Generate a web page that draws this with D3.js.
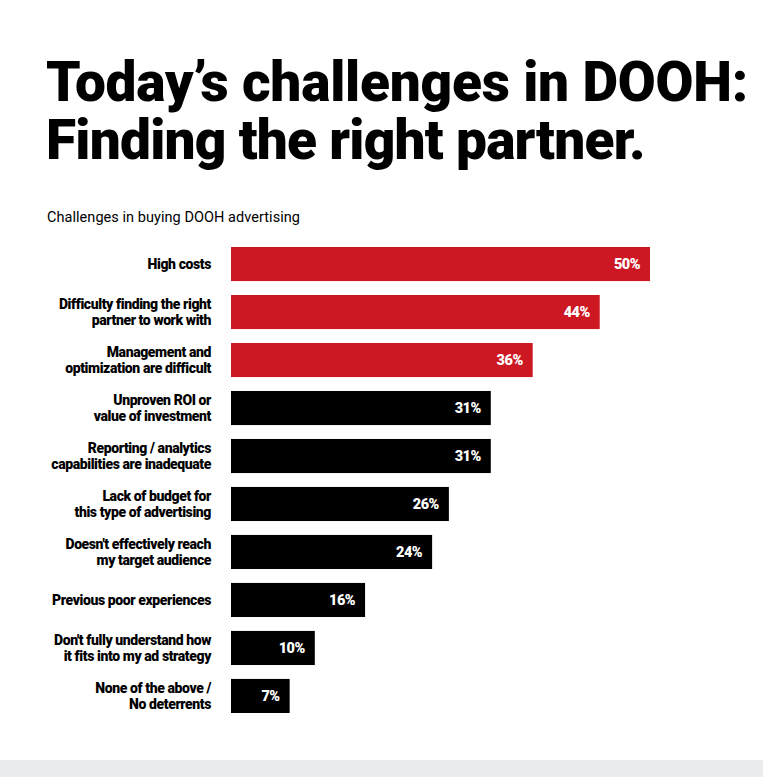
<!DOCTYPE html>
<html>
<head>
<meta charset="utf-8">
<script src="https://cdn.jsdelivr.net/npm/d3@7"></script>
<style>
  html, body { margin: 0; padding: 0; background: #fff; }
  svg { display: block; }
</style>
</head>
<body>
<div id="root"></div>
<script>
const categories = [
  'High costs',
  'Difficulty finding the right\npartner to work with',
  'Management and\noptimization are difficult',
  'Unproven ROI or\nvalue of investment',
  'Reporting / analytics\ncapabilities are inadequate',
  'Lack of budget for\nthis type of advertising',
  "Doesn't effectively reach\nmy target audience",
  'Previous poor experiences',
  "Don't fully understand how\nit fits into my ad strategy",
  'None of the above /\nNo deterrents'
];
const values = [50, 44, 36, 31, 31, 26, 24, 16, 10, 7];
const highlighted = [true, true, true, false, false, false, false, false, false, false];
const titleLines = ["Today\u2019s challenges in DOOH:", 'Finding the right partner.'];
const titleWidths = [702, 599];
const subtitle = 'Challenges in buying DOOH advertising';

const W = 763, H = 777;
const margin = { top: 247, left: 231, bottom: 64 };
const plotW = 419;  // 0..50 spans this
const plotH = H - margin.top - margin.bottom;

const svg = d3.select('#root').append('svg')
  .attr('width', W)
  .attr('height', H);

svg.append('rect')
  .attr('x', 0).attr('y', 760)
  .attr('width', W).attr('height', H - 760)
  .attr('fill', '#ebeced');

const title = svg.append('g')
  .attr('font-family', 'Roboto, "Liberation Sans", sans-serif')
  .attr('font-weight', 900)
  .attr('font-size', 55)
  .attr('fill', '#000');

// squeeze each title line with letter spacing until it fits the wanted width
title.selectAll('text')
  .data(titleLines)
  .enter().append('text')
    .attr('x', 46)
    .attr('y', (d, i) => 101 + i * 58)
    .text(d => d)
    .each(function(d, i) {
      const natural = this.getComputedTextLength();
      const ls = (titleWidths[i] - natural) / d.length;
      d3.select(this).attr('letter-spacing', ls);
    });

svg.append('text')
  .attr('x', 47).attr('y', 222)
  .attr('font-family', 'Roboto, "Liberation Sans", sans-serif')
  .attr('font-size', 14.5)
  .attr('letter-spacing', 0.05)
  .text(subtitle);

const g = svg.append('g')
  .attr('transform', `translate(${margin.left}, ${margin.top})`);

const xScale = d3.scaleLinear()
  .domain([0, 50])
  .range([0, plotW]);

const yScale = d3.scaleBand()
  .domain(categories)
  .range([0, plotH])
  .paddingInner(0.29)
  .paddingOuter(0);

g.selectAll('rect.bar')
  .data(categories)
  .enter().append('rect')
    .attr('class', 'bar')
    .attr('x', 0)
    .attr('y', d => yScale(d))
    .attr('width', (d, i) => xScale(values[i]))
    .attr('height', yScale.bandwidth())
    .attr('fill', (d, i) => highlighted[i] ? '#cd1824' : '#000');

g.selectAll('text.val')
  .data(categories)
  .enter().append('text')
    .attr('class', 'val')
    .attr('x', (d, i) => xScale(values[i]) - 10)
    .attr('y', d => yScale(d) + yScale.bandwidth() / 2)
    .attr('dy', '0.36em')
    .attr('text-anchor', 'end')
    .attr('fill', '#fff')
    .attr('font-family', 'Roboto, "Liberation Sans", sans-serif')
    .attr('font-weight', 900)
    .attr('font-size', 14.5)
    .attr('letter-spacing', -0.5)
    .text((d, i) => values[i] + '%');

const labels = g.selectAll('text.cat')
  .data(categories)
  .enter().append('text')
    .attr('class', 'cat')
    .attr('text-anchor', 'end')
    .attr('font-family', 'Roboto, "Liberation Sans", sans-serif')
    .attr('font-weight', 900)
    .attr('font-size', 14)
    .attr('letter-spacing', -0.4)
    .attr('fill', '#000');

labels.each(function(d) {
  const lines = d.split('\n');
  const mid = yScale(d) + yScale.bandwidth() / 2;
  const lh = 16;
  d3.select(this).selectAll('tspan')
    .data(lines)
    .enter().append('tspan')
      .attr('x', -20)
      .attr('y', (l, i) => mid + (i - (lines.length - 1) / 2) * lh)
      .attr('dy', '0.35em')
      .text(l => l);
});
</script>
</body>
</html>
